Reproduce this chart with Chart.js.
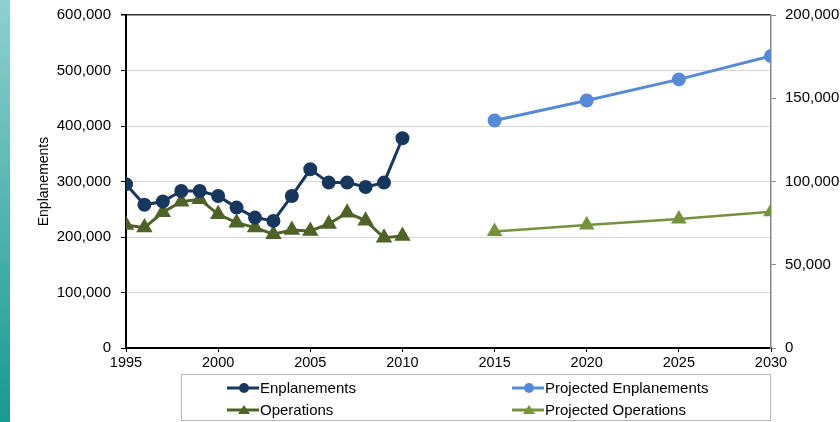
<!DOCTYPE html>
<html>
<head>
<meta charset="utf-8">
<script src="https://cdn.jsdelivr.net/npm/chart.js@4/dist/chart.umd.min.js"></script>
<style>
  html, body { margin: 0; padding: 0; background: #fff; }
  #wrap { position: relative; width: 840px; height: 422px; overflow: hidden; }
  #strip { position: absolute; left: 0; top: 0; width: 10px; height: 422px;
           background: linear-gradient(to bottom, #8fd0cf, #169a92); }
  #chart { position: absolute; left: 0; top: 0; }
</style>
</head>
<body>
<div id="wrap">
  <canvas id="chart" width="840" height="422"></canvas>
  <div id="strip"></div>
</div>
<script>
// Data
const histYears = [1995, 1996, 1997, 1998, 1999, 2000, 2001, 2002, 2003, 2004, 2005, 2006, 2007, 2008, 2009, 2010];
const histEnplanements = [295000, 258000, 264000, 283000, 283000, 274000, 253000, 235000, 229000, 274000, 322000, 298000, 298000, 290000, 298000, 378000];
const histOperations = [73900, 72300, 81500, 87900, 89300, 80300, 75300, 72300, 68300, 70900, 70300, 74500, 81300, 76500, 66200, 67300];
const projYears = [2015, 2020, 2025, 2030];
const projEnplanements = [410000, 446000, 484000, 526000];
const projOperations = [69900, 73900, 77500, 81900];

const font = "'Liberation Sans', Arial, sans-serif";

function pts(xs, ys) {
    return xs.map((x, i) => ({ x: x, y: ys[i] }));
}

function fmt(v) {
    return Number(v).toLocaleString('en-US');
}

// Two-column boxed legend under the chart
const boxLegend = {
    id: 'boxLegend',
    afterDraw(chart) {
        const ctx = chart.ctx;
        ctx.save();
        ctx.strokeStyle = '#b5b5b5';
        ctx.lineWidth = 1;
        ctx.strokeRect(181.5, 374.5, 589, 46);
        const cols = [227, 512];
        const rows = [388, 410];
        chart.data.datasets.forEach((ds, k) => {
            const x = cols[k % 2];
            const y = rows[Math.floor(k / 2)];
            ctx.strokeStyle = ds.borderColor;
            ctx.lineWidth = 3;
            ctx.beginPath();
            ctx.moveTo(x, y);
            ctx.lineTo(x + 32, y);
            ctx.stroke();
            ctx.fillStyle = ds.borderColor;
            ctx.beginPath();
            if (ds.pointStyle === 'triangle') {
                ctx.moveTo(x + 17, y - 5);
                ctx.lineTo(x + 23, y + 4);
                ctx.lineTo(x + 11, y + 4);
                ctx.closePath();
            } else {
                ctx.arc(x + 17, y, 5, 0, Math.PI * 2);
            }
            ctx.fill();
            ctx.fillStyle = '#000';
            ctx.font = '15px ' + font;
            ctx.textBaseline = 'middle';
            ctx.fillText(ds.label, x + 33, y + 1);
        });
        ctx.restore();
    }
};

const ctx = document.getElementById('chart').getContext('2d');
new Chart(ctx, {
    type: 'line',
    data: {
        datasets: [
            {
                label: 'Enplanements',
                data: pts(histYears, histEnplanements),
                yAxisID: 'y',
                borderColor: '#17375e',
                backgroundColor: '#17375e',
                borderWidth: 3,
                pointStyle: 'circle',
                pointRadius: 5.5,
                pointHoverRadius: 5.5
            },
            {
                label: 'Projected Enplanements',
                data: pts(projYears, projEnplanements),
                yAxisID: 'y',
                borderColor: '#578ad6',
                backgroundColor: '#578ad6',
                borderWidth: 3,
                pointStyle: 'circle',
                pointRadius: 5.5,
                pointHoverRadius: 5.5
            },
            {
                label: 'Operations',
                data: pts(histYears, histOperations),
                yAxisID: 'y1',
                borderColor: '#4f6228',
                backgroundColor: '#4f6228',
                borderWidth: 3,
                pointStyle: 'triangle',
                pointRadius: 6.5,
                pointHoverRadius: 6.5
            },
            {
                label: 'Projected Operations',
                data: pts(projYears, projOperations),
                yAxisID: 'y1',
                borderColor: '#76923c',
                backgroundColor: '#76923c',
                borderWidth: 2.5,
                pointStyle: 'triangle',
                pointRadius: 6.5,
                pointHoverRadius: 6.5
            }
        ]
    },
    options: {
        responsive: false,
        animation: false,
        layout: { padding: { top: 15, bottom: 50, left: 36 } },
        plugins: {
            legend: { display: false },
            tooltip: { enabled: false }
        },
        scales: {
            x: {
                type: 'linear',
                min: 1995,
                max: 2030,
                ticks: {
                    stepSize: 5,
                    color: '#000',
                    font: { family: font, size: 14.5 },
                    padding: 2,
                    maxRotation: 0,
                    callback: v => String(v)
                },
                grid: { display: true, drawOnChartArea: false, color: '#000', tickLength: 4 },
                border: { color: '#000', width: 2 },
                afterFit: s => { s.height = 24; }
            },
            y: {
                position: 'left',
                min: 0,
                max: 600000,
                ticks: {
                    stepSize: 100000,
                    color: '#000',
                    font: { family: font, size: 15 },
                    padding: 10,
                    callback: v => fmt(v)
                },
                title: {
                    display: true,
                    text: 'Enplanements',
                    color: '#000',
                    font: { family: font, size: 14 },
                    padding: 0
                },
                grid: {
                    color: c => (c.tick && c.tick.value === 600000) ? '#333' : '#d4d4d4',
                    lineWidth: c => (c.tick && c.tick.value === 600000) ? 1.5 : 1,
                    tickColor: '#000',
                    tickLength: 5
                },
                border: { color: '#000', width: 2 },
                afterFit: s => { s.width = 90; s.paddingTop = 0; s.paddingBottom = 0; }
            },
            y1: {
                position: 'right',
                min: 0,
                max: 200000,
                ticks: {
                    stepSize: 50000,
                    color: '#000',
                    font: { family: font, size: 15 },
                    padding: 9,
                    callback: v => fmt(v)
                },
                grid: { drawOnChartArea: false, color: '#888', tickLength: 5 },
                border: { color: '#888', width: 1.5 },
                afterFit: s => { s.width = 69; s.paddingTop = 0; s.paddingBottom = 0; }
            }
        }
    },
    plugins: [boxLegend]
});
</script>
</body>
</html>
